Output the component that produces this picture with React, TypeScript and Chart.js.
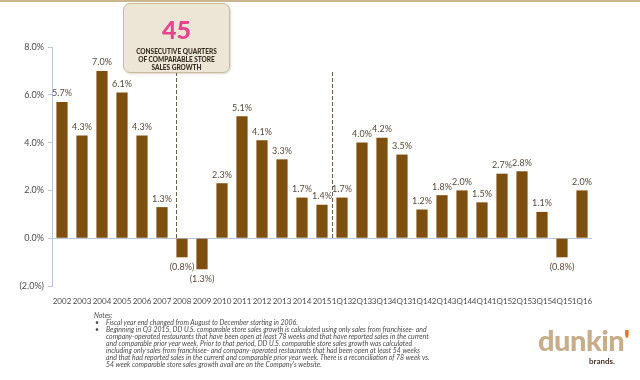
import React, { useEffect, useRef } from "react";
import { Chart, registerables } from "chart.js";

Chart.register(...registerables);

const categories = [
  "2002", "2003", "2004", "2005", "2006", "2007", "2008", "2009", "2010", "2011", "2012", "2013", "2014", "2015",
  "1Q13", "2Q13", "3Q13", "4Q13", "1Q14", "2Q14", "3Q14", "4Q14", "1Q15", "2Q15", "3Q15", "4Q15", "1Q16",
];
const growth = [
  5.7, 4.3, 7.0, 6.1, 4.3, 1.3, -0.8, -1.3, 2.3, 5.1, 4.1, 3.3, 1.7, 1.4,
  1.7, 4.0, 4.2, 3.5, 1.2, 1.8, 2.0, 1.5, 2.7, 2.8, 1.1, -0.8, 2.0,
];
const yTicks = [-2, 0, 2, 4, 6, 8];
const note1 = ["Fiscal year end changed from August to December starting in 2006."];
const note2 = [
  "Beginning in Q3 2015, DD U.S. comparable store sales growth is calculated using only sales from franchisee- and",
  "company-operated restaurants that have been open at least 78 weeks and that have reported sales in the current",
  "and comparable prior year week. Prior to that period, DD U.S. comparable store sales growth was calculated",
  "including only sales from franchisee- and company-operated restaurants that had been open at least 54 weeks",
  "and that had reported sales in the current and comparable prior year week. There is a reconciliation of 78 week vs.",
  "54 week comparable store sales growth avail are on the Company's website.",
];

const FONT = "Lato, 'DejaVu Sans', sans-serif";

function fmt(v: number) {
  const s = Math.abs(v).toFixed(1) + "%";
  return v < 0 ? "(" + s + ")" : s;
}

const overlayPlugin = {
  id: "overlay",
  afterDatasetsDraw(chart: any) {
    const ctx = chart.ctx;
    const meta = chart.getDatasetMeta(0);
    const y = chart.scales.y;
    const x = chart.scales.x;
    ctx.save();
    ctx.strokeStyle = "#6e5a3e";
    ctx.lineWidth = 1;
    ctx.setLineDash([4, 2]);
    const zero = y.getPixelForValue(0);
    const seps = [5.7, 13.5];
    seps.forEach((s) => {
      const i = Math.floor(s);
      const f = s - i;
      const px = Math.round(x.getPixelForValue(i) + (x.getPixelForValue(i + 1) - x.getPixelForValue(i)) * f) + 0.5;
      ctx.beginPath();
      ctx.moveTo(px, 72);
      ctx.lineTo(px, zero);
      ctx.stroke();
    });
    ctx.setLineDash([]);
    ctx.font = "9px " + FONT;
    ctx.fillStyle = "#5a4838";
    ctx.textAlign = "center";
    meta.data.forEach((bar: any, i: number) => {
      const v = growth[i];
      if (v >= 0) {
        ctx.textBaseline = "bottom";
        ctx.fillText(fmt(v), bar.x, bar.y - 4);
      } else {
        ctx.textBaseline = "top";
        ctx.fillText(fmt(v), bar.x, bar.y + 5);
      }
    });
    ctx.restore();
  },
};

export default function App() {
  const ref = useRef<HTMLCanvasElement | null>(null);
  useEffect(() => {
    if (!ref.current) return;
    const chart = new Chart(ref.current, {
      type: "bar",
      data: {
        labels: categories,
        datasets: [
          {
            data: growth,
            backgroundColor: "#7e4f0f",
            barPercentage: 0.56,
            categoryPercentage: 1,
          },
        ],
      },
      options: {
        responsive: false,
        animation: false,
        layout: { padding: { left: 0, right: 48, top: 47, bottom: 0 } },
        plugins: { legend: { display: false }, tooltip: { enabled: false } },
        scales: {
          x: {
            grid: { display: false },
            border: { display: false },
            ticks: {
              autoSkip: false,
              maxRotation: 0,
              minRotation: 0,
              padding: 3,
              color: "#4a4a4a",
              font: { size: 8, family: FONT },
            },
            afterFit: (s: any) => {
              s.height = 94;
            },
          },
          y: {
            min: -2,
            max: 8,
            afterBuildTicks: (s: any) => {
              s.ticks = yTicks.map((v) => ({ value: v }));
            },
            grid: {
              drawOnChartArea: true,
              color: (c: any) => (c.tick && c.tick.value === 0 ? "#b7c7db" : "rgba(0,0,0,0)"),
              tickColor: "#b7c7db",
              tickLength: 4,
            },
            border: { display: true, color: "#b7c7db", width: 1 },
            ticks: {
              padding: 4,
              color: "#4a4a4a",
              font: { size: 9, family: FONT },
              callback: (v: any) => {
                const n = Number(v);
                return n < 0 ? "(" + Math.abs(n).toFixed(1) + "%)" : n.toFixed(1) + "%";
              },
            },
            afterFit: (s: any) => {
              s.width = 52;
            },
          },
        },
      },
      plugins: [overlayPlugin],
    });
    return () => chart.destroy();
  }, []);

  const line = { whiteSpace: "nowrap" as const };

  return (
    <div style={{ position: "fixed", left: 0, top: 0, width: 640, height: 380, background: "#fff", overflow: "hidden", fontFamily: FONT }}>
      <div style={{ position: "absolute", left: 0, top: 0, width: 640, height: 2, background: "#c9b68f" }} />
      <canvas ref={ref} width={640} height={380} style={{ position: "absolute", left: 0, top: 0 }} />
      <div
        style={{
          position: "absolute",
          left: 123,
          top: 3,
          width: 107,
          height: 70,
          background: "#ede5d6",
          border: "1.5px solid #cbbb9c",
          borderRadius: 7,
          textAlign: "center",
          boxSizing: "border-box",
          boxShadow: "1px 1px 2px rgba(120,100,70,0.25)",
        }}
      >
        <div style={{ color: "#e9428f", fontWeight: 900, fontSize: 25, lineHeight: "26px", marginTop: 12 }}>45</div>
        <div style={{ color: "#3a2e25", fontWeight: 900, fontSize: 6.5, lineHeight: "8px", marginTop: 6 }}>
          CONSECUTIVE QUARTERS
          <br />
          OF COMPARABLE STORE
          <br />
          SALES GROWTH
        </div>
      </div>
      <div style={{ position: "absolute", left: 94, top: 312, fontSize: 6.9, lineHeight: "7px", fontStyle: "italic", color: "#4a4a4a" }}>
        <div>Notes:</div>
        {[note1, note2].map((n, i) => (
          <div key={i} style={{ position: "relative", paddingLeft: 12 }}>
            <span style={{ position: "absolute", left: 1, fontStyle: "normal" }}>•</span>
            {n.map((t, j) => (
              <div key={j} style={line}>
                {t}
              </div>
            ))}
          </div>
        ))}
      </div>
      <div style={{ position: "absolute", left: 538, top: 324, fontSize: 29, fontWeight: 900, color: "#c8ae88", letterSpacing: -0.5, lineHeight: "32px" }}>
        dunkin<span style={{ color: "#ea7420" }}>'</span>
      </div>
      <div style={{ position: "absolute", left: 589, top: 356, fontSize: 8, fontWeight: 700, color: "#4a3426" }}>brands.</div>
    </div>
  );
}
